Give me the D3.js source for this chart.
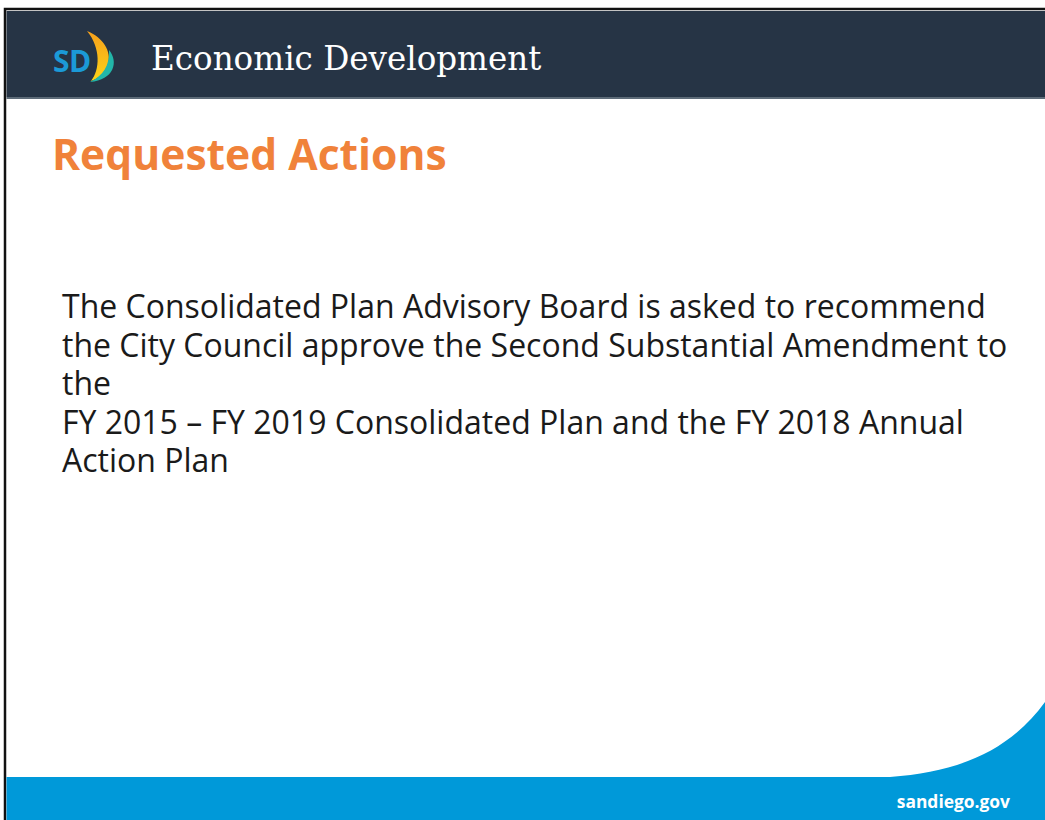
<!DOCTYPE html>
<html>
<head>
<meta charset="utf-8">
<script src="https://cdn.jsdelivr.net/npm/d3@7"></script>
<style>
  body { margin: 0; background: #fff; }
  svg { display: block; }
</style>
</head>
<body>
<div class="slide"></div>
<script>
// Slide content
const headerTitle = 'Economic Development';
const logoText = 'SD';
const slideTitle = 'Requested Actions';
const bodyLines = [
    'The Consolidated Plan Advisory Board is asked to recommend',
    'the City Council approve the Second Substantial Amendment to',
    'the',
    'FY 2015 \u2013 FY 2019 Consolidated Plan and the FY 2018 Annual',
    'Action Plan'
];
const footerText = 'sandiego.gov';

const width = 1045, height = 820;
const svg = d3.select('.slide').append('svg')
    .attr('width', width)
    .attr('height', height);

const defs = svg.append('defs');
const grad = defs.append('linearGradient').attr('id', 'sail')
    .attr('x1', 0).attr('y1', 0).attr('x2', 0).attr('y2', 1);
grad.append('stop').attr('offset', '0%').attr('stop-color', '#f6a01c');
grad.append('stop').attr('offset', '100%').attr('stop-color', '#fdd316');

// frame border (left + top)
svg.append('rect').attr('x', 5).attr('y', 9).attr('width', width).attr('height', height)
    .attr('fill', '#fff').attr('stroke', '#111').attr('stroke-width', 2.5);

// header bar
svg.append('rect').attr('x', 6.5).attr('y', 11).attr('width', width).attr('height', 86)
    .attr('fill', '#263445');
svg.append('rect').attr('x', 6.5).attr('y', 97).attr('width', width).attr('height', 2)
    .attr('fill', '#5d6b78');

// logo
const logo = svg.append('g');
logo.append('path')
    .attr('d', 'M87,31 C103,37 112,52 108,64 C105,73 98,79 91,81 C100,70 101,48 87,31 Z')
    .attr('fill', 'url(#sail)');
logo.append('path')
    .attr('d', 'M109,50 C119,62 114,80 90,82 C103,76 110,65 109,50 Z')
    .attr('fill', '#22b6a9');
logo.append('text')
    .attr('x', 53).attr('y', 72)
    .attr('font-family', '"Open Sans", sans-serif')
    .attr('font-weight', 700)
    .attr('font-size', 30)
    .attr('fill', '#1b9ad7')
    .attr('letter-spacing', -0.5)
    .text(logoText);

svg.append('text')
    .attr('x', 151).attr('y', 70)
    .attr('font-family', '"DejaVu Serif", serif')
    .attr('font-size', 32.6)
    .attr('fill', '#fff')
    .text(headerTitle);

// slide title
svg.append('text')
    .attr('x', 52).attr('y', 170)
    .attr('font-family', '"Open Sans", sans-serif')
    .attr('font-weight', 700)
    .attr('font-size', 42.6)
    .attr('fill', '#f0823a')
    .text(slideTitle);

// body text, one text block with a line per tspan
const lineY = d3.scalePoint().domain(d3.range(bodyLines.length)).range([318, 472]);
svg.append('text')
    .attr('font-family', '"Open Sans", sans-serif')
    .attr('font-size', 32)
    .attr('fill', '#1a1a1a')
    .selectAll('tspan')
    .data(bodyLines)
    .join('tspan')
    .attr('x', 62)
    .attr('y', (d, i) => lineY(i))
    .text(d => d);

// footer wave
svg.append('path')
    .attr('d', `M6.5,777 L${width},777 L${width},702 C1010,750 960,772 890,777 Z`)
    .attr('fill', '#0099d9');
svg.append('rect').attr('x', 6.5).attr('y', 777).attr('width', width).attr('height', 43)
    .attr('fill', '#0099d9');

svg.append('text')
    .attr('x', 1010).attr('y', 808)
    .attr('text-anchor', 'end')
    .attr('font-family', '"Open Sans", sans-serif')
    .attr('font-weight', 700)
    .attr('font-size', 17.4)
    .attr('fill', '#fff')
    .text(footerText);
</script>
</body>
</html>
